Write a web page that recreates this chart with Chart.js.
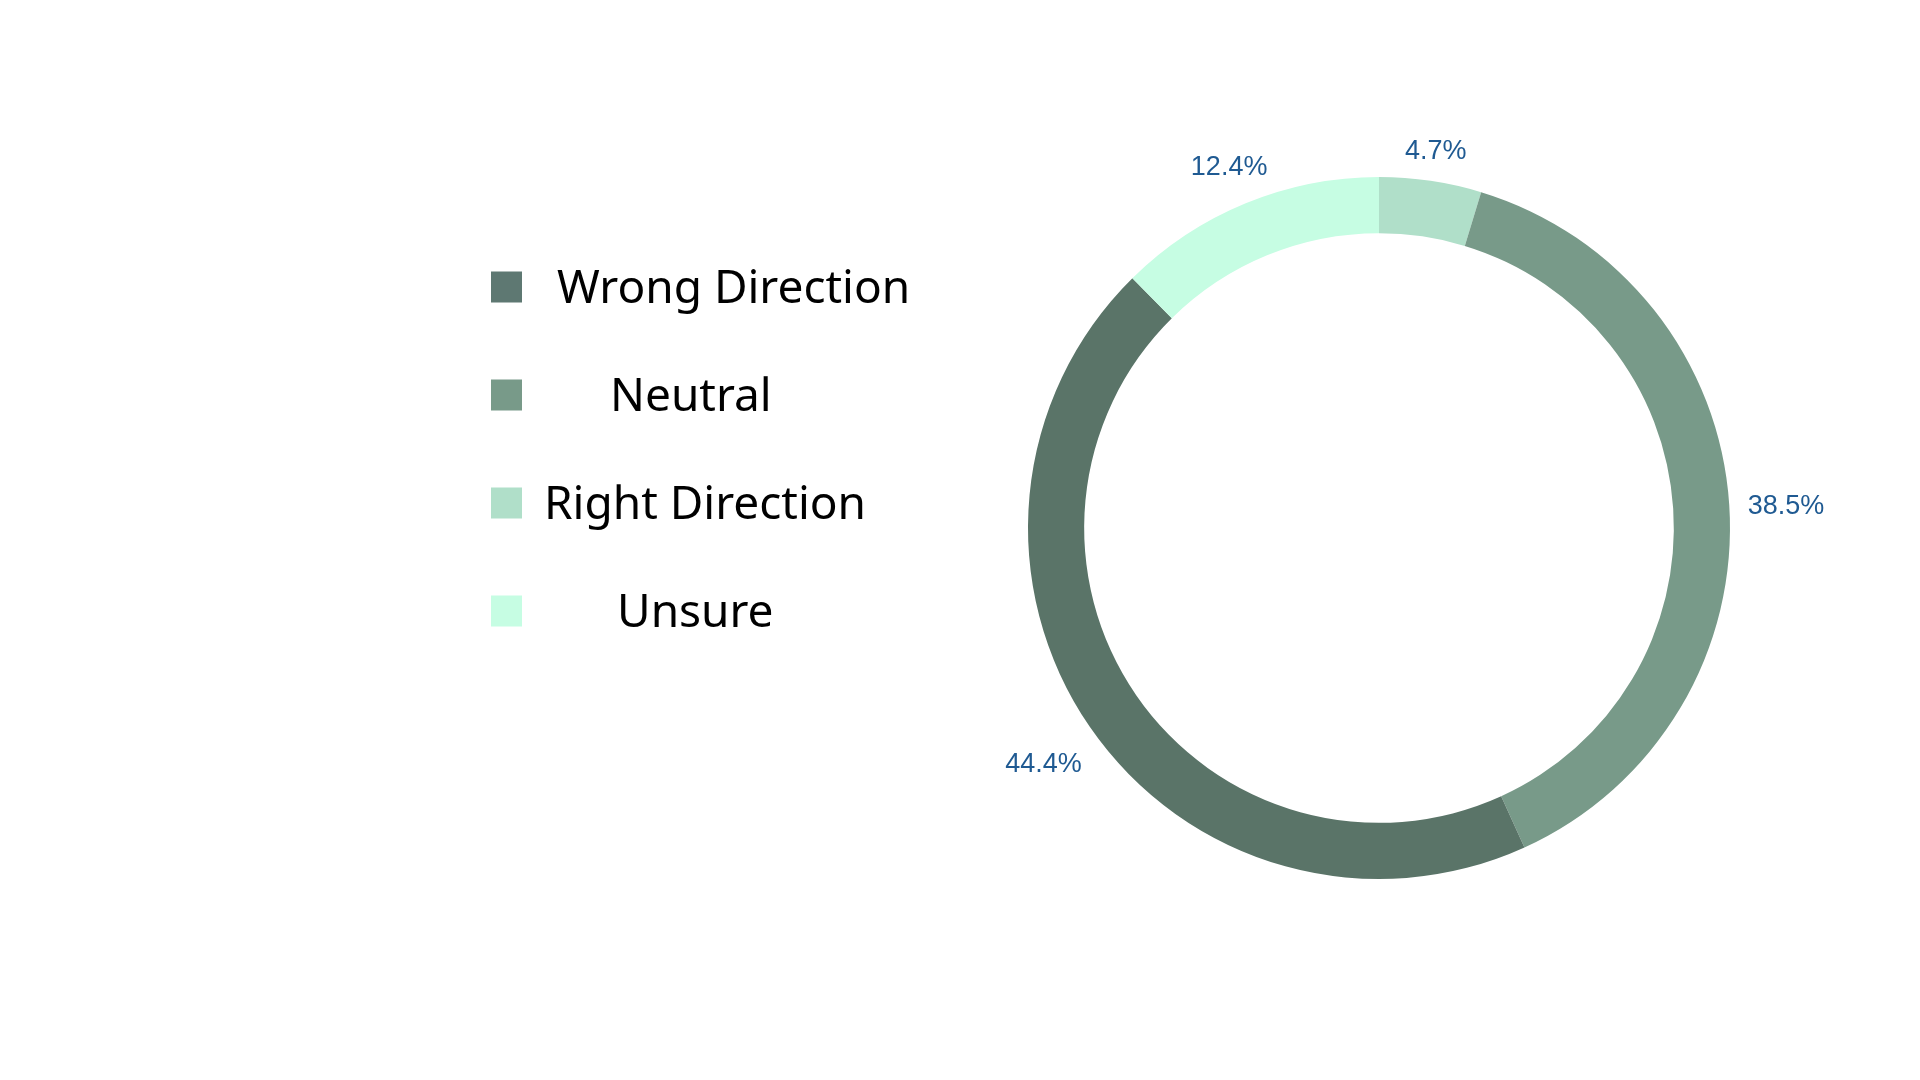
<!DOCTYPE html>
<html>
<head>
<meta charset="utf-8">
<script src="https://cdn.jsdelivr.net/npm/chart.js@4.4.1/dist/chart.umd.min.js"></script>
<style>
  html, body { margin: 0; padding: 0; background: #ffffff; }
  #wrap { position: relative; width: 1920px; height: 1080px; }
</style>
</head>
<body>
<div id="wrap"><canvas id="chartDirection"></canvas></div>
<script>
// legend order
const categories = ['Wrong Direction', 'Neutral', 'Right Direction', 'Unsure'];
const shares = [44.4, 38.5, 4.7, 12.4];
const colors = ['#5a7468', '#789a89', '#b0dfc9', '#c6fde3'];
// order the slices appear clockwise from 12 o'clock
const sliceOrder = [2, 1, 0, 3];

const legendBoxColors = ['#5e7872', '#789a89', '#b0dfc9', '#c6fde3'];
const legendTextX = [557, 610, 544, 617];

document.addEventListener('DOMContentLoaded', function() {
    const ctx = document.getElementById('chartDirection').getContext('2d');

    const sideLegend = {
        id: 'sideLegend',
        afterDraw(chart) {
            const c = chart.ctx;
            c.save();
            categories.forEach(function(name, i) {
                const cy = 287 + i * 108;
                c.fillStyle = legendBoxColors[i];
                c.fillRect(491, cy - 15.5, 31, 31);
                c.fillStyle = '#000000';
                c.font = '46px "Noto Sans"';
                c.textAlign = 'left';
                c.textBaseline = 'middle';
                c.fillText(name, legendTextX[i], cy + 3);
            });
            c.restore();
        }
    };

    const outsideLabels = {
        id: 'outsideLabels',
        afterDatasetsDraw(chart) {
            const c = chart.ctx;
            const meta = chart.getDatasetMeta(0);
            c.save();
            c.font = '27px "Liberation Sans", Arial, sans-serif';
            c.fillStyle = '#1f5a92';
            c.textAlign = 'center';
            c.textBaseline = 'middle';
            meta.data.forEach(function(arc, i) {
                const p = arc.getProps(['x', 'y', 'startAngle', 'endAngle', 'outerRadius'], true);
                const mid = (p.startAngle + p.endAngle) / 2;
                const txt = chart.data.datasets[0].data[i].toFixed(1) + '%';
                const w = c.measureText(txt).width;
                const cos = Math.cos(mid), sin = Math.sin(mid);
                const r = p.outerRadius + 18 + Math.abs(cos) * w / 2 + Math.abs(sin) * 12;
                c.fillText(txt, p.x + cos * r, p.y + sin * r + 5);
            });
            c.restore();
        }
    };

    new Chart(ctx, {
        type: 'doughnut',
        data: {
            labels: sliceOrder.map(i => categories[i]),
            datasets: [{
                data: sliceOrder.map(i => shares[i]),
                backgroundColor: sliceOrder.map(i => colors[i]),
                borderWidth: 0
            }]
        },
        options: {
            responsive: true,
            maintainAspectRatio: false,
            animation: false,
            cutout: '84%',
            layout: {
                padding: { left: 1028, right: 190, top: 177, bottom: 201 }
            },
            plugins: {
                legend: { display: false },
                tooltip: { enabled: false },
                title: { display: false }
            }
        },
        plugins: [outsideLabels, sideLegend]
    });
});
</script>
</body>
</html>
